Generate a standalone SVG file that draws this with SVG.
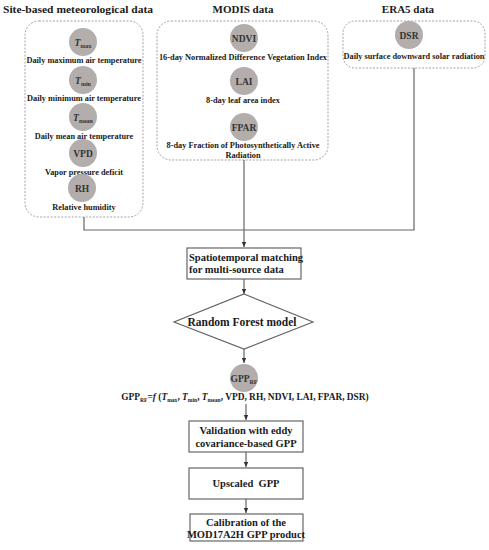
<svg xmlns="http://www.w3.org/2000/svg" width="489" height="550" viewBox="0 0 489 550">
<style>
text{font-family:'Liberation Serif','Times New Roman','DejaVu Serif',serif;font-weight:bold;fill:#1a1a1a;text-anchor:middle}
.title{font-size:11px}
.lbl{font-size:8.3px}
.cir{fill:#b3aeab}
.ct{font-size:9.5px;fill:#333}
.grp{fill:none;stroke:#999;stroke-width:0.9;stroke-dasharray:2,1.5}
.box{fill:#fff;stroke:#666;stroke-width:1.2}
.bt{font-size:10.5px}
.ln{fill:none;stroke:#666;stroke-width:1.2}
</style>
<defs>
<marker id="ah" markerWidth="6" markerHeight="6" refX="5" refY="3" orient="auto" markerUnits="userSpaceOnUse">
<path d="M0,0.8 L5,3 L0,5.2 Z" fill="#333"/>
</marker>
</defs>
<g font-family="Liberation Serif, serif">
<text class="title" x="78" y="13" textLength="150" lengthAdjust="spacingAndGlyphs">Site-based meteorological data</text>
<text class="title" x="243" y="13">MODIS data</text>
<text class="title" x="408" y="13">ERA5 data</text>
<g id="site">
<rect class="grp" x="25" y="21" width="118" height="196" rx="14"/>
<circle class="cir" cx="83" cy="42" r="14"/>
<text class="ct" x="83" y="46"><tspan font-style="italic">T</tspan><tspan font-size="6" dy="1.5">max</tspan></text>
<text class="lbl" x="84" y="63">Daily maximum air temperature</text>
<circle class="cir" cx="83" cy="80" r="14"/>
<text class="ct" x="83" y="84"><tspan font-style="italic">T</tspan><tspan font-size="6" dy="1.5">min</tspan></text>
<text class="lbl" x="84" y="101">Daily minimum air temperature</text>
<circle class="cir" cx="83" cy="117" r="14"/>
<text class="ct" x="83" y="121"><tspan font-style="italic">T</tspan><tspan font-size="6" dy="1.5">mean</tspan></text>
<text class="lbl" x="84" y="139">Daily mean air temperature</text>
<circle class="cir" cx="83" cy="153" r="14"/>
<text class="ct" x="83" y="157">VPD</text>
<text class="lbl" x="84" y="175">Vapor pressure deficit</text>
<circle class="cir" cx="82" cy="188" r="14"/>
<text class="ct" x="82" y="192">RH</text>
<text class="lbl" x="84" y="210">Relative humidity</text>
</g>
<g id="modis">
<rect class="grp" x="157" y="21" width="171" height="139" rx="14"/>
<circle class="cir" cx="244" cy="38" r="14"/>
<text class="ct" x="244" y="42">NDVI</text>
<text class="lbl" x="243" y="60">16-day Normalized Difference Vegetation Index</text>
<circle class="cir" cx="244" cy="81" r="14"/>
<text class="ct" x="244" y="85">LAI</text>
<text class="lbl" x="243" y="103">8-day leaf area index</text>
<circle class="cir" cx="244" cy="127" r="14"/>
<text class="ct" x="244" y="131">FPAR</text>
<text class="lbl" x="243" y="148">8-day Fraction of Photosynthetically Active</text>
<text class="lbl" x="243" y="158">Radiation</text>
</g>
<g id="era5">
<rect class="grp" x="343" y="21" width="142" height="47" rx="12"/>
<circle class="cir" cx="409" cy="35" r="14"/>
<text class="ct" x="409" y="39">DSR</text>
<text class="lbl" x="414" y="59">Daily surface downward solar radiation</text>
</g>
<g id="connectors">
<path class="ln" d="M84,217 V230 H414 V68"/>
<path class="ln" d="M244,160 V247" marker-end="url(#ah)"/>
<path class="ln" d="M244,279 V294" marker-end="url(#ah)"/>
<path class="ln" d="M244,349 V363" marker-end="url(#ah)"/>
<path class="ln" d="M246,404 V420" marker-end="url(#ah)"/>
<path class="ln" d="M246,452 V467" marker-end="url(#ah)"/>
<path class="ln" d="M246,499 V513" marker-end="url(#ah)"/>
</g>
<g id="match">
<rect class="box" x="187" y="248" width="114" height="31"/>
<text class="bt" x="189" y="261" style="text-anchor:start">Spatiotemporal matching</text>
<text class="bt" x="189" y="273" style="text-anchor:start">for multi-source data</text>
</g>
<g id="rf">
<path class="box" d="M244,294 L313,322 L244,349 L174,322 Z"/>
<text x="242" y="326" style="font-size:11.5px">Random Forest model</text>
</g>
<g id="gpprf">
<circle class="cir" cx="244" cy="378" r="14"/>
<text class="ct" x="244" y="382">GPP<tspan font-size="6" dy="1.5">RF</tspan></text>
<text x="245" y="400" style="font-size:9.4px">GPP<tspan font-size="5.6" dy="1.5">RF</tspan><tspan dy="-1.5">=</tspan><tspan font-style="italic">f</tspan> (<tspan font-style="italic">T</tspan><tspan font-size="5.6" dy="1.5">max</tspan><tspan dy="-1.5">, </tspan><tspan font-style="italic">T</tspan><tspan font-size="5.6" dy="1.5">min</tspan><tspan dy="-1.5">, </tspan><tspan font-style="italic">T</tspan><tspan font-size="5.6" dy="1.5">mean</tspan><tspan dy="-1.5">, VPD, RH, NDVI, LAI, FPAR, DSR)</tspan></text>
</g>
<g id="valid">
<rect class="box" x="189" y="421" width="114" height="31"/>
<text class="bt" x="246" y="434">Validation with eddy</text>
<text class="bt" x="246" y="447">covariance-based GPP</text>
</g>
<g id="up">
<rect class="box" x="189" y="468" width="114" height="31"/>
<text class="bt" x="246" y="487" xml:space="preserve">Upscaled  GPP</text>
</g>
<g id="calib">
<rect class="box" x="190" y="514" width="113" height="27"/>
<text class="bt" x="246" y="526">Calibration of the</text>
<text class="bt" x="246" y="538">MOD17A2H GPP product</text>
</g>
</g>
</svg>
